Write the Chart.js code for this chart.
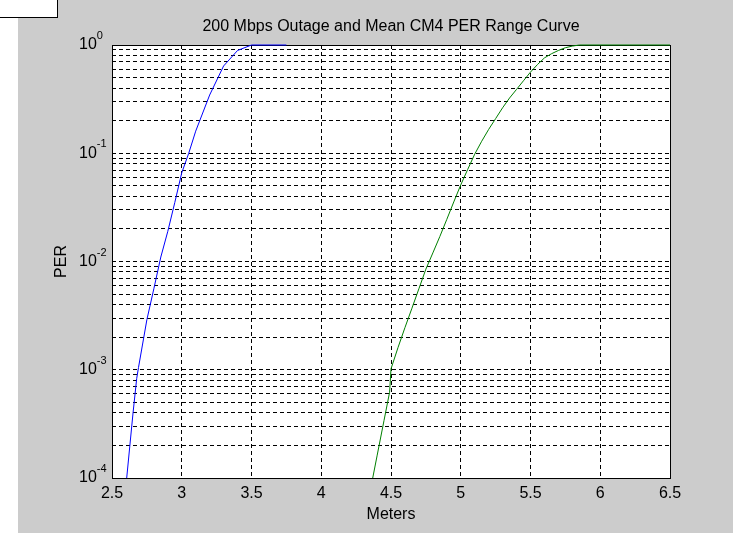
<!DOCTYPE html>
<html>
<head>
<meta charset="utf-8">
<script src="https://cdn.jsdelivr.net/npm/chart.js@4/dist/chart.umd.min.js"></script>
<style>
  html, body { margin: 0; padding: 0; background: #fff; }
  #fig { position: absolute; left: 18px; top: 0; width: 715px; height: 533px; background: #cccccc; }
  #wrap { position: absolute; left: 0; top: 0; width: 733px; height: 533px; }
  #corner { position: absolute; left: 0; top: 0; width: 57px; height: 17px; background: #fff;
            border-right: 1px solid #000; border-bottom: 1px solid #000; z-index: 2; }
</style>
</head>
<body>
<div id="fig"></div>
<div id="wrap"><canvas id="per"></canvas></div>
<div id="corner"></div>
<script>
// x = distance in meters, y = PER
const blueX = [2.6, 2.65, 2.677, 2.69, 2.75, 2.8, 2.85, 2.9, 2.95, 3.0, 3.05, 3.1, 3.2, 3.3, 3.4, 3.5, 3.75];
const blueY = [8.5e-5, 3.9e-4, 8.3e-4, 1.05e-3, 2.9e-3, 5.6e-3, 1.1e-2, 1.9e-2, 3.5e-2, 0.066, 0.10, 0.16, 0.345, 0.64, 0.89, 1.0, 1.0];

const greenX = [4.35, 4.4, 4.45, 4.49, 4.5, 4.55, 4.6, 4.65, 4.7, 4.75, 4.8, 4.85, 4.9, 4.95, 5.0, 5.05, 5.1,
  5.15, 5.2, 5.25, 5.3, 5.35, 5.4, 5.45, 5.5, 5.55, 5.6, 5.65, 5.7, 5.75, 5.8, 5.85, 6.5];
const greenY = [7.5e-5, 1.6e-4, 3.4e-4, 6.2e-4, 1.02e-3, 1.6e-3, 2.45e-3, 3.7e-3, 5.6e-3, 8.5e-3, 0.012, 0.017, 0.0245, 0.0355, 0.051, 0.071, 0.098,
  0.129, 0.166, 0.209, 0.263, 0.324, 0.389, 0.468, 0.562, 0.66, 0.76, 0.83, 0.89, 0.944, 0.977, 1.0, 1.0];

const yExps = [0, -1, -2, -3, -4];
const xTicks = [2.5, 3, 3.5, 4, 4.5, 5, 5.5, 6, 6.5];

const font = '"Liberation Sans", Arial, Helvetica, sans-serif';
Chart.defaults.font.family = font;
Chart.defaults.font.size = 16;
Chart.defaults.color = '#000';

function pts(xs, ys) {
  return xs.map((x, i) => ({ x: x, y: ys[i] }));
}

// every decade gets lines at 1..9
function logTicks() {
  const t = [];
  for (let e = -4; e < 0; e++) {
    for (let m = 1; m <= 9; m++) t.push({ value: m * Math.pow(10, e) });
  }
  t.push({ value: 1 });
  return t;
}

const matlabAxes = {
  id: 'matlabAxes',
  beforeDraw(chart) {
    const a = chart.chartArea;
    const ctx = chart.ctx;
    ctx.save();
    ctx.fillStyle = '#fff';
    ctx.fillRect(a.left, a.top, a.right - a.left, a.bottom - a.top);
    ctx.restore();
  },
  beforeDatasetsDraw(chart) {
    // box round the axes, under the curves
    const a = chart.chartArea;
    const ctx = chart.ctx;
    ctx.save();
    ctx.strokeStyle = '#000';
    ctx.lineWidth = 1;
    ctx.strokeRect(a.left + 0.5, a.top + 0.5, a.right - a.left, a.bottom - a.top);
    ctx.restore();
  },
  afterDraw(chart) {
    const ctx = chart.ctx;
    const ys = chart.scales.y;
    ctx.save();
    ctx.fillStyle = '#000';
    yExps.forEach(e => {
      const y = ys.getPixelForValue(Math.pow(10, e));
      ctx.font = '16px ' + font;
      ctx.textAlign = 'left';
      ctx.textBaseline = 'middle';
      ctx.fillText('10', 79, y);
      const w = ctx.measureText('10').width;
      ctx.font = '11px ' + font;
      ctx.textBaseline = 'alphabetic';
      ctx.fillText(String(e), 79 + w, y - 6);
    });
    ctx.restore();
  }
};

new Chart(document.getElementById('per'), {
  type: 'line',
  data: {
    datasets: [
      { data: pts(blueX, blueY), borderColor: '#0000ff', borderWidth: 1, pointRadius: 0, tension: 0, fill: false,
        clip: { left: 0, right: 0, top: 1, bottom: 0 } },
      { data: pts(greenX, greenY), borderColor: '#008000', borderWidth: 1, pointRadius: 0, tension: 0, fill: false,
        clip: { left: 0, right: 0, top: 1, bottom: 0 } }
    ]
  },
  options: {
    responsive: true,
    maintainAspectRatio: false,
    animation: false,
    layout: { padding: { left: 0, right: 63, top: 0, bottom: 0 } },
    plugins: {
      legend: { display: false },
      tooltip: { enabled: false },
      title: {
        display: true,
        text: '200 Mbps Outage and Mean CM4 PER Range Curve',
        fullSize: false,
        font: { size: 16, weight: 'normal' },
        color: '#000',
        padding: { top: 17, bottom: 8.8 }
      }
    },
    scales: {
      x: {
        type: 'linear',
        min: 2.5,
        max: 6.5,
        afterBuildTicks: s => { s.ticks = xTicks.map(v => ({ value: v })); },
        afterFit: s => { s.height = 55; },
        ticks: { padding: 6, maxRotation: 0, autoSkip: false, color: '#000', callback: v => String(v) },
        grid: { color: '#000', lineWidth: 1, drawTicks: false },
        border: { display: false, dash: [4, 3] },
        title: { display: true, text: 'Meters', color: '#000', padding: { top: 0, bottom: 9 } }
      },
      y: {
        type: 'logarithmic',
        min: 1e-4,
        max: 1,
        afterBuildTicks: s => { s.ticks = logTicks(); },
        afterFit: s => { s.width = 112; },
        ticks: { display: false },
        grid: { color: '#000', lineWidth: 1, drawTicks: false },
        border: { display: false, dash: [4, 3] },
        title: { display: true, text: 'PER', color: '#000', padding: { top: 52.4, bottom: 0 } }
      }
    }
  },
  plugins: [matlabAxes]
});
</script>
</body>
</html>
